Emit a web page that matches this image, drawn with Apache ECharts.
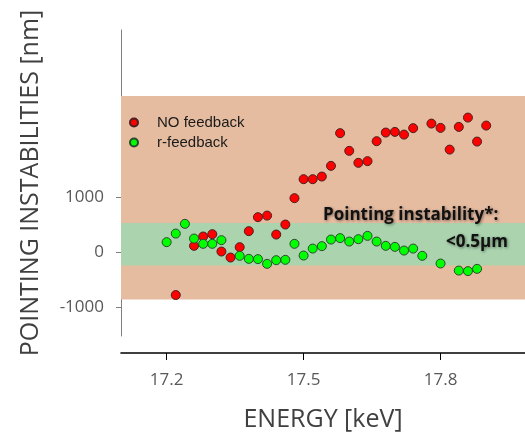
<!DOCTYPE html>
<html>
<head>
<meta charset="utf-8">
<script src="https://cdn.jsdelivr.net/npm/echarts@6/dist/echarts.min.js"></script>
<style>html,body{margin:0;padding:0;background:#fff;}#c{width:525px;height:433px;}</style>
</head>
<body>
<div id="c"></div>
<script>
// ---- data ----
var noFeedbackEnergy = [17.22,17.26,17.28,17.30,17.32,17.34,17.36,17.38,17.40,17.42,17.44,17.46,17.48,17.50,17.52,17.54,17.56,17.58,17.60,17.62,17.64,17.66,17.68,17.70,17.72,17.74,17.78,17.80,17.82,17.84,17.86,17.88,17.90];
var noFeedbackValue  = [-780,115,284,327,11,-98,91,382,636,665,320,502,982,1327,1327,1375,1569,2164,1842,1624,1655,2018,2175,2187,2138,2255,2338,2260,1865,2278,2447,2011,2302];
var rFeedbackEnergy  = [17.20,17.22,17.24,17.26,17.28,17.30,17.32,17.36,17.38,17.40,17.42,17.44,17.46,17.48,17.50,17.52,17.54,17.56,17.58,17.60,17.62,17.64,17.66,17.68,17.70,17.72,17.74,17.76,17.80,17.84,17.86,17.88];
var rFeedbackValue   = [182,338,515,247,151,151,218,-67,-122,-127,-213,-146,-140,151,-62,65,109,229,255,193,236,296,193,115,96,29,65,-67,-207,-335,-345,-304];
var xTicks = [17.2, 17.5, 17.8];
var yTicks = [-1000, 0, 1000];
var outerBand = [2840, -860];
var innerBand = [530, -245];
var seriesNames = ['NO feedback', 'r-feedback'];
var annotation1 = 'Pointing instability*:';
var annotation2 = '<0.5\u00B5m';

function pairs(xs, ys){ return xs.map(function(x,i){ return [x, ys[i]]; }); }

var chart = echarts.init(document.getElementById('c'), null, {renderer:'canvas'});
chart.setOption({
  animation: false,
  backgroundColor: '#ffffff',
  grid: { left: 121, right: 0, top: 30, bottom: 97, containLabel: false, outerBoundsMode: 'none' },
  legend: {
    orient: 'vertical', left: 124, top: 110,
    itemWidth: 36, itemHeight: 8, itemGap: 5, icon: 'circle',
    textStyle: { fontFamily: 'Liberation Sans', fontSize: 15, color: '#1a1a1a', lineHeight: 15 },
    data: seriesNames
  },
  xAxis: {
    type: 'value', min: 17.1, max: 17.985, offset: 17,
    name: 'ENERGY [keV]', nameLocation: 'middle', nameGap: 54,
    nameTextStyle: { fontFamily: 'Open Sans', fontSize: 25, color: '#404040' },
    axisLine: { show: true, onZero: false, lineStyle: { color: '#000', width: 1.6 } },
    axisTick: { show: true, length: 7, customValues: xTicks, lineStyle: { color: '#000', width: 1 } },
    axisLabel: { customValues: xTicks, margin: 19, fontFamily: 'Open Sans', fontSize: 17, color: '#595959',
      formatter: function(v){ return v.toFixed(1); } },
    splitLine: { show: false }
  },
  yAxis: {
    type: 'value', min: -1525, max: 4040,
    name: 'POINTING INSTABILITIES [nm]', nameLocation: 'middle', nameGap: 78, nameRotate: 90,
    nameTextStyle: { fontFamily: 'Open Sans', fontSize: 25, color: '#404040' },
    axisLine: { show: true, onZero: false, lineStyle: { color: '#808080', width: 1 } },
    axisTick: { show: true, length: 5, customValues: yTicks, lineStyle: { color: '#808080', width: 1 } },
    axisLabel: { customValues: yTicks, margin: 17, fontFamily: 'Open Sans', fontSize: 17, color: '#595959',
      formatter: function(v){ return String(Math.round(v)); } },
    splitLine: { show: false }
  },
  series: [
    {
      name: 'bands', type: 'scatter', data: [], z: 1, silent: true,
      markArea: {
        silent: true,
        data: [
          [{ yAxis: outerBand[0], itemStyle: { color: '#e6bca1' } }, { yAxis: outerBand[1] }],
          [{ yAxis: innerBand[0], itemStyle: { color: '#aad3ae' } }, { yAxis: innerBand[1] }]
        ]
      }
    },
    {
      name: seriesNames[0], type: 'scatter', z: 3, symbolSize: 9,
      itemStyle: { color: '#ff0000', borderColor: '#4a2020', borderWidth: 1, opacity: 1 },
      data: pairs(noFeedbackEnergy, noFeedbackValue)
    },
    {
      name: seriesNames[1], type: 'scatter', z: 3, symbolSize: 9,
      itemStyle: { color: '#00ff00', borderColor: '#2a4a2a', borderWidth: 1, opacity: 1 },
      data: pairs(rFeedbackEnergy, rFeedbackValue)
    }
  ],
  graphic: [
    { type: 'text', left: 323, top: 207, z: 10, silent: true,
      style: { text: annotation1, font: 'bold 17px "Open Sans"', fill: '#111',
        textShadowColor: 'rgba(0,0,0,0.45)', textShadowBlur: 3, textShadowOffsetX: 1, textShadowOffsetY: 1 } },
    { type: 'text', right: 17, top: 234, z: 10, silent: true,
      style: { text: annotation2, font: 'bold 17px "Open Sans"', fill: '#111', align: 'right',
        textShadowColor: 'rgba(0,0,0,0.45)', textShadowBlur: 3, textShadowOffsetX: 1, textShadowOffsetY: 1 } }
  ]
});
</script>
</body>
</html>
